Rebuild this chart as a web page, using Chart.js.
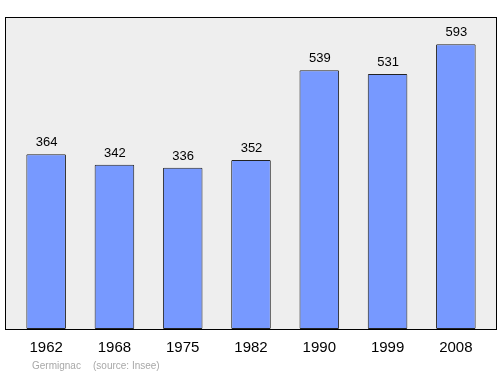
<!DOCTYPE html>
<html>
<head>
<meta charset="utf-8">
<script src="https://cdn.jsdelivr.net/npm/chart.js@4/dist/chart.umd.min.js"></script>
<style>
  html, body { margin: 0; padding: 0; background: #fff; }
  #wrap { width: 500px; height: 374px; position: relative; }
</style>
</head>
<body>
<div id="wrap"><canvas id="myChart"></canvas></div>
<script>
// population data
var years = ['1962', '1968', '1975', '1982', '1990', '1999', '2008'];
var population = [364, 342, 336, 352, 539, 531, 593];
var yMax = 650;

// grey box behind the bars + value labels + footer text
var frame = {
    id: 'frame',
    beforeDraw: function (chart) {
        var c = chart.ctx;
        var a = chart.chartArea;
        c.save();
        c.fillStyle = '#eeeeee';
        c.fillRect(5.5, a.top + 0.5, 491, a.bottom - a.top);
        c.strokeStyle = '#000';
        c.lineWidth = 1;
        c.strokeRect(5.5, a.top + 0.5, 491, a.bottom - a.top);
        c.restore();
    },
    afterDatasetsDraw: function (chart) {
        var c = chart.ctx;
        var meta = chart.getDatasetMeta(0);
        c.save();
        c.font = '13px "Liberation Sans", Arial, sans-serif';
        c.fillStyle = '#000';
        c.textAlign = 'center';
        c.textBaseline = 'alphabetic';
        meta.data.forEach(function (bar, i) {
            c.fillText(population[i], bar.x + 0.5, bar.y - 8);
        });
        // footer
        c.font = '10px "Liberation Sans", Arial, sans-serif';
        c.fillStyle = '#a8a8a8';
        c.textAlign = 'left';
        c.textBaseline = 'middle';
        c.fillText('Germignac', 32, 366);
        c.fillText('(source: Insee)', 93, 366);
        c.restore();
    }
};

var ctx = document.getElementById('myChart');

var popChart = new Chart(ctx, {
    type: 'bar',
    data: {
        labels: years,
        datasets: [{
            data: population,
            backgroundColor: '#7799ff',
            borderColor: '#222',
            borderWidth: 1,
            borderRadius: 1,
            borderSkipped: false,
            barPercentage: 0.58,
            categoryPercentage: 1
        }]
    },
    options: {
        responsive: true,
        maintainAspectRatio: false,
        animation: false,
        layout: { padding: { top: 17, left: 12, right: 10, bottom: 0 } },
        plugins: {
            legend: { display: false },
            tooltip: { enabled: false }
        },
        scales: {
            x: {
                offset: true,
                grid: { display: false, drawTicks: false },
                border: { display: false },
                ticks: {
                    color: '#000',
                    padding: 10,
                    font: { family: '"Liberation Sans", Arial, sans-serif', size: 15 }
                },
                afterFit: function (scale) { scale.height = 45; }
            },
            y: {
                display: false,
                min: 0,
                max: yMax
            }
        }
    },
    plugins: [frame]
});
</script>
</body>
</html>
